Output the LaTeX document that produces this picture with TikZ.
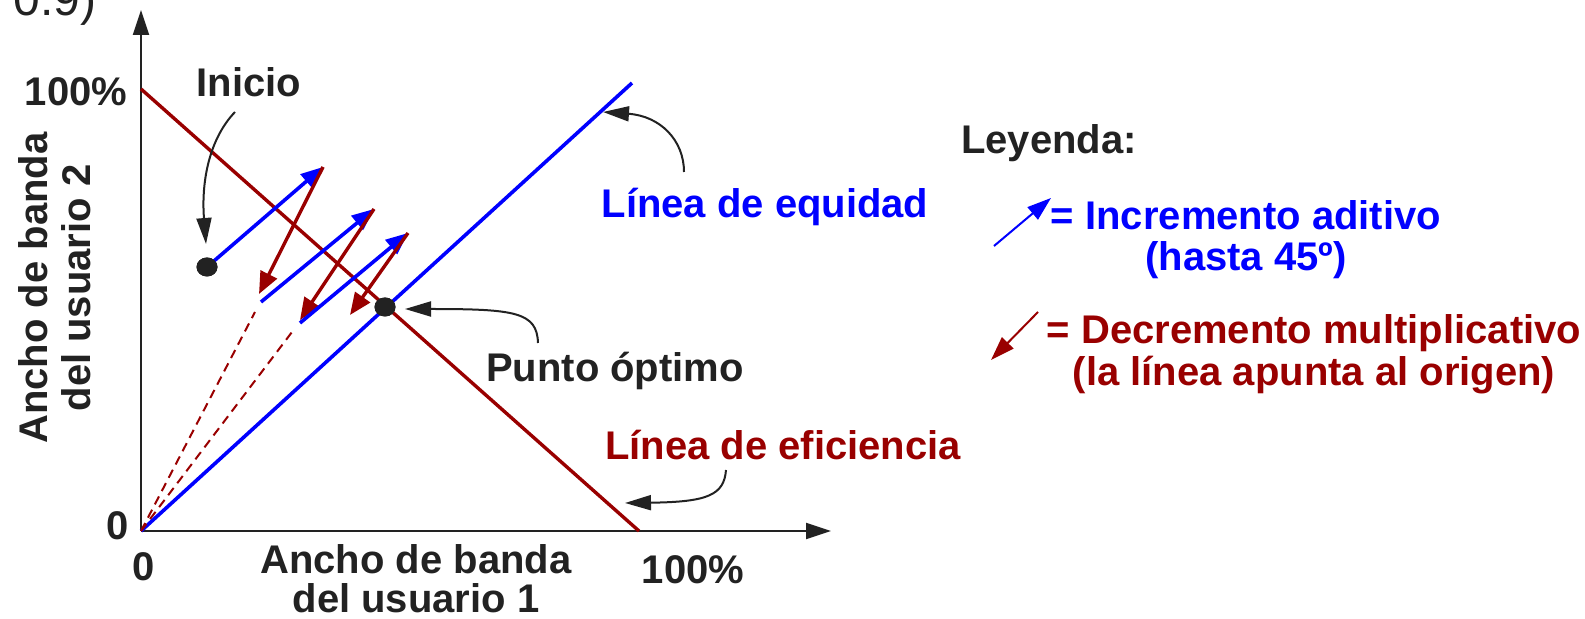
\documentclass[tikz,border=0pt]{standalone}
\usepackage{fontspec}
\setmainfont{Liberation Sans}
\usetikzlibrary{arrows.meta,shapes.geometric}
\definecolor{myblue}{RGB}{0,0,255}
\definecolor{myred}{RGB}{153,0,0}
\definecolor{ink}{RGB}{34,34,34}
\begin{document}
\begin{tikzpicture}[x=0.5pt,y=-0.5pt,
  lbl/.style={inner sep=0pt, font=\fontsize{20}{24}\selectfont\bfseries, text=ink},
  bluetxt/.style={lbl, text=myblue},
  redtxt/.style={lbl, text=myred},
  axis/.style={line width=1pt, draw=ink, -{Triangle[length=12.5pt,width=8pt]}},
  blueline/.style={line width=1.8pt, draw=myblue},
  redline/.style={line width=1.7pt, draw=myred},
  bluearrow/.style={blueline, -{Triangle[length=11pt,width=9pt]}},
  redarrow/.style={redline, -{Triangle[length=11pt,width=9pt]}},
  dashedred/.style={draw=myred, line width=1pt, dash pattern=on 4.5pt off 3pt},
  pointer/.style={draw=ink, line width=1pt, -{Triangle[length=13pt,width=7.5pt]}},
  legblue/.style={draw=myblue, line width=1pt, -{Triangle[length=12pt,width=8pt]}},
  legred/.style={draw=myred, line width=1pt, -{Triangle[length=12pt,width=8pt]}},
  dot/.style={ellipse, fill=ink, minimum width=10.5pt, minimum height=9.5pt, inner sep=0pt}
]
\useasboundingbox (0,0) rectangle (1585,619);

% coordinates
\coordinate (O) at (141,531);
\coordinate (ytip) at (141,10);
\coordinate (xtip) at (831,531);
\coordinate (eqend) at (632,83);
\coordinate (effA) at (141,89);
\coordinate (effB) at (639,531);
\coordinate (p1) at (323,167);
\coordinate (q1) at (261,302);
\coordinate (r1) at (259,294);
\coordinate (p2) at (374,209);
\coordinate (q2) at (300,323);
\coordinate (r2) at (300,320);
\coordinate (p3) at (408,233);
\coordinate (r3) at (350,315);
\coordinate (d1) at (255,312);
\coordinate (d2) at (292,332);

% axes
\draw[axis] (O) -- (ytip);
\draw[axis] (O) -- (xtip);

% efficiency and equity lines
\draw[redline] (effA) -- (effB);
\draw[blueline] (O) -- (eqend);

% dashed lines to origin
\draw[dashedred] (O) -- (d1);
\draw[dashedred] (O) -- (d2);

% dots
\node[dot] (start) at (207,267) {};
\node[dot] (opt) at (385,307) {};

% trajectory
\draw[bluearrow] (start.center) -- (p1);
\draw[redarrow] (p1) -- (r1);
\draw[bluearrow] (q1) -- (p2);
\draw[redarrow] (p2) -- (r2);
\draw[bluearrow] (q2) -- (p3);
\draw[redarrow] (p3) -- (r3);
\node[dot] at (start) {};
\node[dot] at (opt) {};

% texts
\node[anchor=base east, inner sep=0pt, font=\fontsize{24}{28}\selectfont, text=ink] (frag) at (97,16) {0.9)};
\node[lbl, anchor=base] (inicio) at (249,97) {Inicio};
\node[lbl, anchor=base] (y100) at (76,106) {100\%};
\node[lbl, anchor=base] (y0) at (118,540) {0};
\node[lbl, anchor=base] (x0) at (144,581) {0};
\node[lbl, anchor=base] (x100) at (693,584) {100\%};
\node[lbl, anchor=base] (xl1) at (416,574) {Ancho de banda};
\node[lbl, anchor=base] (xl2) at (416,613) {del usuario 1};
\node[lbl, anchor=base, rotate=90] (yl1) at (47,288) {Ancho de banda};
\node[lbl, anchor=base, rotate=90] (yl2) at (90,288) {del usuario 2};
\node[bluetxt, anchor=base] (eqlbl) at (765,218) {Línea de equidad};
\node[lbl, anchor=base] (optlbl) at (615,382) {Punto óptimo};
\node[redtxt, anchor=base] (efflbl) at (783,460) {Línea de eficiencia};
\node[lbl, anchor=base] (ley) at (1049,154) {Leyenda:};
\node[bluetxt, anchor=base] (inc1) at (1246,230) {= Incremento aditivo};
\node[bluetxt, anchor=base] (inc2) at (1246,271) {(hasta 45º)};
\node[redtxt, anchor=base] (dec1) at (1314,344) {= Decremento multiplicativo};
\node[redtxt, anchor=base] (dec2) at (1314,386) {(la línea apunta al origen)};

% pointer arrows
\coordinate (iA) at (235,112);
\coordinate (iB) at (206,244);
\draw[pointer] (iA) .. controls (210,138) and (201,180) .. (iB);
\coordinate (eA) at (684,172);
\coordinate (eB) at (603,112);
\draw[pointer] (eA) .. controls (684,140) and (660,116) .. (eB);
\coordinate (oA) at (538,343);
\coordinate (oB) at (405,309);
\draw[pointer] (oA) .. controls (537,312) and (515,309) .. (oB);
\coordinate (fA) at (726,470);
\coordinate (fB) at (625,503);
\draw[pointer] (fA) .. controls (724,495) and (708,502) .. (fB);

% legend arrows
\coordinate (lbA) at (994,246);
\coordinate (lbB) at (1051,198);
\draw[legblue] (lbA) -- (lbB);
\coordinate (lrA) at (1038,312);
\coordinate (lrB) at (991,360);
\draw[legred] (lrA) -- (lrB);
\end{tikzpicture}
\end{document}
